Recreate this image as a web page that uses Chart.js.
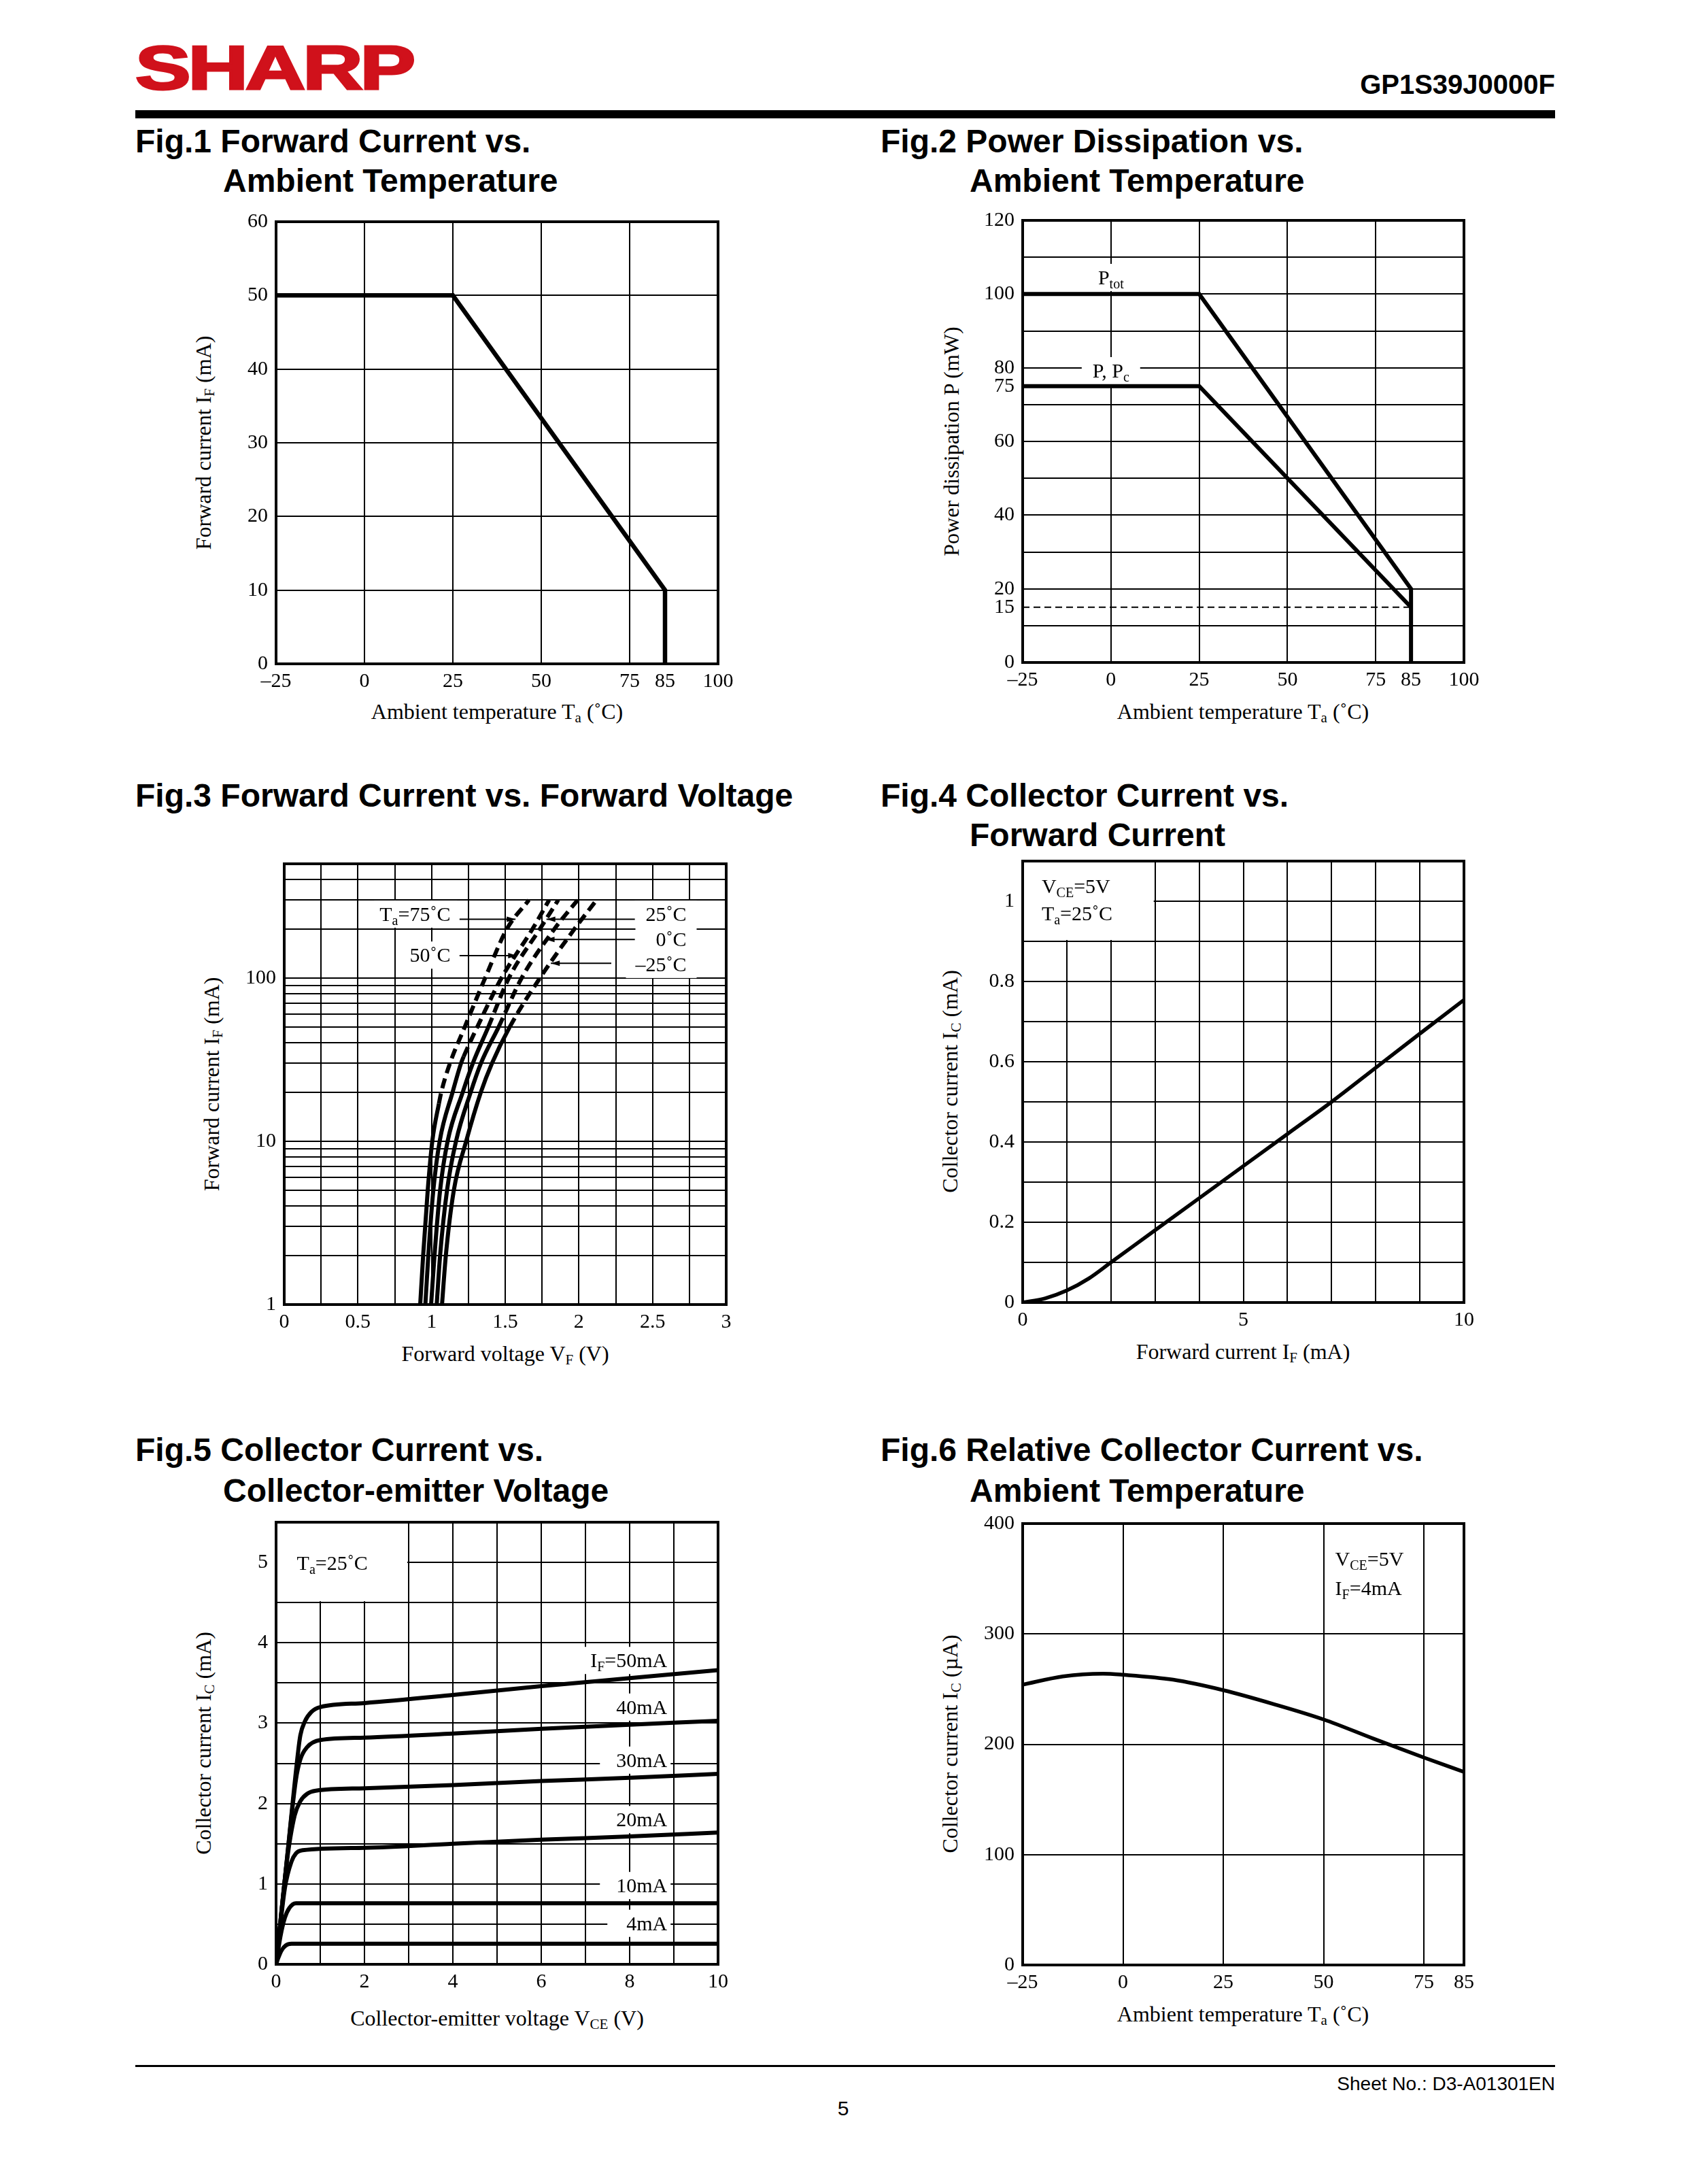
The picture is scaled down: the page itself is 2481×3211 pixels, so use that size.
<!DOCTYPE html>
<html>
<head>
<meta charset="utf-8">
<title>GP1S39J0000F characteristics</title>
<script src="https://cdn.jsdelivr.net/npm/chart.js@4.4.1/dist/chart.umd.min.js"></script>
<style>
  html, body { margin:0; padding:0; background:#fff; }
  #page { position:relative; width:2481px; height:3211px; overflow:hidden; background:#fff; }
  .abs { position:absolute; white-space:nowrap; line-height:1; }
  .logo { font-family:"Liberation Sans", Arial, sans-serif; font-weight:bold; color:#d0111b; font-size:90px;
          transform:scaleX(1.36); transform-origin:0 0; letter-spacing:-3px; -webkit-text-stroke:3px #d0111b; }
  .part { font-family:"Liberation Sans", Arial, sans-serif; font-weight:bold; font-size:40px; }
  .fig { font-family:"Liberation Sans", Arial, sans-serif; font-weight:bold; font-size:48px; }
  .axt { font-family:"Liberation Serif", "Times New Roman", serif; font-size:32px; }
  .sb { font-size:21px; vertical-align:-5px; }
  .xt { transform:translateX(-50%); }
  .rot { transform:translate(-50%,-50%) rotate(-90deg); }
  .foot { font-family:"Liberation Sans", Arial, sans-serif; font-size:28px; }
  .rule { position:absolute; background:#000; }
  canvas { position:absolute; }
</style>
</head>
<body>
<div id="page">
  <div class="abs logo" style="left:199px; top:55px;">SHARP</div>
  <div class="abs part" style="right:194px; top:104px;">GP1S39J0000F</div>
  <div class="rule" style="left:199px; top:162px; width:2088px; height:12px;"></div>

  <div class="abs fig" style="left:199px; top:184px;">Fig.1 Forward Current vs.</div>
  <div class="abs fig" style="left:328px; top:242px;">Ambient Temperature</div>
  <div class="abs fig" style="left:1295px; top:184px;">Fig.2 Power Dissipation vs.</div>
  <div class="abs fig" style="left:1426px; top:242px;">Ambient Temperature</div>
  <div class="abs fig" style="left:199px; top:1146px;">Fig.3 Forward Current vs. Forward Voltage</div>
  <div class="abs fig" style="left:1295px; top:1146px;">Fig.4 Collector Current vs.</div>
  <div class="abs fig" style="left:1426px; top:1204px;">Forward Current</div>
  <div class="abs fig" style="left:199px; top:2108px;">Fig.5 Collector Current vs.</div>
  <div class="abs fig" style="left:328px; top:2168px;">Collector-emitter Voltage</div>
  <div class="abs fig" style="left:1295px; top:2108px;">Fig.6 Relative Collector Current vs.</div>
  <div class="abs fig" style="left:1426px; top:2168px;">Ambient Temperature</div>

  <div class="abs axt xt" style="left:731px; top:1030px;">Ambient temperature T<span class="sb">a</span> (˚C)</div>
  <div class="abs axt rot" style="left:301px; top:651px;">Forward current I<span class="sb">F</span> (mA)</div>
  <div class="abs axt xt" style="left:1828px; top:1030px;">Ambient temperature T<span class="sb">a</span> (˚C)</div>
  <div class="abs axt rot" style="left:1399px; top:649px;">Power dissipation P (mW)</div>
  <div class="abs axt xt" style="left:743px; top:1974px;">Forward voltage V<span class="sb">F</span> (V)</div>
  <div class="abs axt rot" style="left:313px; top:1594px;">Forward current I<span class="sb">F</span> (mA)</div>
  <div class="abs axt xt" style="left:1828px; top:1971px;">Forward current I<span class="sb">F</span> (mA)</div>
  <div class="abs axt rot" style="left:1399px; top:1590px;">Collector current I<span class="sb">C</span> (mA)</div>
  <div class="abs axt xt" style="left:731px; top:2951px;">Collector-emitter voltage V<span class="sb">CE</span> (V)</div>
  <div class="abs axt rot" style="left:301px; top:2563px;">Collector current I<span class="sb">C</span> (mA)</div>
  <div class="abs axt xt" style="left:1828px; top:2945px;">Ambient temperature T<span class="sb">a</span> (˚C)</div>
  <div class="abs axt rot" style="left:1399px; top:2564px;">Collector current I<span class="sb">C</span> (µA)</div>

  <div class="rule" style="left:199px; top:3036px; width:2088px; height:3px;"></div>
  <div class="abs foot" style="right:194px; top:3050px;">Sheet No.: D3-A01301EN</div>
  <div class="abs foot xt" style="left:1240px; top:3085px; font-size:30px;">5</div>
</div>

<script>
// ---- Fig.1 forward current derating
const fig1Temp = [-25, 25, 85, 85];
const fig1If = [50, 50, 10, 0];
const fig1XTicks = [-25, 0, 25, 50, 75, 85, 100];
const fig1YTicks = [0, 10, 20, 30, 40, 50, 60];

// ---- Fig.2 power dissipation derating
const fig2TotTemp = [-25, 25, 85, 85];
const fig2Ptot = [100, 100, 20, 0];
const fig2PcTemp = [-25, 25, 85];
const fig2Pc = [75, 75, 15];
const fig2RefTemp = [-25, 85];
const fig2Ref = [15, 15];
const fig2YTicks = [0, 10, 15, 20, 30, 40, 50, 60, 70, 75, 80, 90, 100, 110, 120];
const fig2YLabels = ['0', '', '15', '20', '', '40', '', '60', '', '75', '80', '', '100', '', '120'];

// ---- Fig.3 forward voltage vs forward current (per ambient temperature)
const fig3If75 = [1, 2, 5, 10, 17, 20, 30, 50, 100, 200, 300];
const fig3Vf75 = [0.923, 0.943, 0.974, 1.005, 1.05, 1.066, 1.125, 1.225, 1.364, 1.512, 1.661];
const fig3If50 = [1, 2, 5, 10, 20, 30, 33, 50, 100, 200, 300];
const fig3Vf50 = [0.958, 0.978, 1.012, 1.055, 1.143, 1.20, 1.218, 1.31, 1.475, 1.686, 1.798];
const fig3If = [1, 2, 5, 10, 20, 30, 50, 100, 200, 300];
const fig3Vf25 = [0.997, 1.02, 1.058, 1.109, 1.212, 1.28, 1.385, 1.525, 1.736, 1.86];
const fig3Vf0 = [1.035, 1.058, 1.105, 1.166, 1.266, 1.335, 1.455, 1.612, 1.835, 1.991];
const fig3VfM25 = [1.071, 1.097, 1.151, 1.235, 1.335, 1.41, 1.53, 1.736, 1.971, 2.12];
const fig3RatedIf = [17, 33, 50, 50, 50];
const fig3XTicks = [0, 0.25, 0.5, 0.75, 1, 1.25, 1.5, 1.75, 2, 2.25, 2.5, 2.75, 3];
const fig3XLabels = ['0', '', '0.5', '', '1', '', '1.5', '', '2', '', '2.5', '', '3'];
const fig3YTicks = [1, 2, 3, 4, 5, 6, 7, 8, 9, 10, 20, 30, 40, 50, 60, 70, 80, 90, 100, 200, 300, 400, 500];

// ---- Fig.4 collector current vs forward current
const fig4If = [0, 0.5, 1, 1.5, 2, 3, 4, 5, 6, 7, 8, 9, 10];
const fig4Ic = [0, 0.01, 0.03, 0.06, 0.1, 0.18, 0.26, 0.34, 0.42, 0.5, 0.585, 0.67, 0.754];
const fig4XTicks = [0, 1, 2, 3, 4, 5, 6, 7, 8, 9, 10];
const fig4YTicks = [0, 0.1, 0.2, 0.3, 0.4, 0.5, 0.6, 0.7, 0.8, 0.9, 1.0, 1.1];
const fig4YLabels = ['0', '', '0.2', '', '0.4', '', '0.6', '', '0.8', '', '1', ''];

// ---- Fig.5 collector current vs collector-emitter voltage
const fig5Vce50 = [0, 0.25, 0.5, 0.55, 0.65, 0.8, 1.0, 2, 4, 6, 8, 10];
const fig5Ic50 = [0, 1.33, 2.65, 2.85, 3.02, 3.14, 3.2, 3.25, 3.35, 3.46, 3.56, 3.66];
const fig5Vce40 = [0, 0.25, 0.45, 0.55, 0.7, 1.0, 2, 4, 6, 8, 10];
const fig5Ic40 = [0, 1.33, 2.3, 2.55, 2.7, 2.79, 2.82, 2.87, 2.93, 2.98, 3.03];
const fig5Vce30 = [0, 0.25, 0.42, 0.55, 0.7, 0.9, 2, 4, 6, 8, 10];
const fig5Ic30 = [0, 1.3, 1.85, 2.03, 2.12, 2.16, 2.19, 2.23, 2.28, 2.32, 2.37];
const fig5Vce20 = [0, 0.2, 0.35, 0.45, 0.6, 2, 4, 6, 8, 10];
const fig5Ic20 = [0, 0.95, 1.28, 1.38, 1.42, 1.45, 1.50, 1.55, 1.59, 1.64];
const fig5Vce10 = [0, 0.1, 0.2, 0.3, 0.45, 2, 10];
const fig5Ic10 = [0, 0.35, 0.58, 0.7, 0.76, 0.76, 0.76];
const fig5Vce4 = [0, 0.05, 0.12, 0.22, 0.35, 2, 10];
const fig5Ic4 = [0, 0.08, 0.17, 0.235, 0.255, 0.255, 0.255];
const fig5XTicks = [0, 1, 2, 3, 4, 5, 6, 7, 8, 9, 10];
const fig5XLabels = ['0', '', '2', '', '4', '', '6', '', '8', '', '10'];
const fig5YTicks = [0, 0.5, 1, 1.5, 2, 2.5, 3, 3.5, 4, 4.5, 5, 5.5];
const fig5YLabels = ['0', '', '1', '', '2', '', '3', '', '4', '', '5', ''];

// ---- Fig.6 collector current vs ambient temperature
const fig6Temp = [-25, -15, -5, 0, 12.5, 25, 37.5, 50, 62.5, 75, 85];
const fig6Ic = [254, 261.5, 264, 263, 258.5, 249, 236.5, 222.5, 205, 188, 175];
const fig6XTicks = [-25, 0, 25, 50, 75, 85];
const fig6YTicks = [0, 100, 200, 300, 400];

const SERIF = '"Liberation Serif", "Times New Roman", serif';
Chart.defaults.font.family = SERIF;
Chart.defaults.font.size = 30;
Chart.defaults.color = '#000';

function fmt(v) { return v < 0 ? '\u2013' + (-v) : String(v); }

function axis(pos, o) {
  const labels = o.labels || o.ticks.map(fmt);
  return {
    type: o.type || 'linear',
    position: pos === 'y' ? 'left' : 'bottom',
    min: o.min, max: o.max,
    afterBuildTicks: s => { s.ticks = o.ticks.map(v => ({ value: v })); },
    afterFit: s => { if (pos === 'y') s.width = 100; else s.height = 60; },
    ticks: { autoSkip: false, maxRotation: 0, minRotation: 0, padding: pos === 'y' ? 12 : 8,
             callback: (v, i) => labels[i] },
    grid: { drawTicks: false, lineWidth: 2,
            color: c => (c.tick && o.noGrid && o.noGrid.includes(c.tick.value)) ? 'rgba(0,0,0,0)' : '#000' },
    border: { display: false }
  };
}

function curve(xs, ys, extra) {
  return Object.assign({
    data: xs.map((x, i) => ({ x: x, y: ys[i] })),
    showLine: true, borderColor: '#000', backgroundColor: '#000', borderWidth: 6,
    pointRadius: 0, borderJoinStyle: 'miter', borderCapStyle: 'butt', fill: false
  }, extra || {});
}

function smooth(xs, ys, extra) {
  return curve(xs, ys, Object.assign({ cubicInterpolationMode: 'monotone' }, extra || {}));
}

// rich text: strings are normal, one-element arrays are subscripts
function richWidth(ctx, parts) {
  let w = 0;
  parts.forEach(p => {
    ctx.font = (Array.isArray(p) ? '20px ' : '30px ') + SERIF;
    w += ctx.measureText(Array.isArray(p) ? p[0] : p).width;
  });
  return w;
}
function drawRich(ctx, parts, x, base) {
  parts.forEach(p => {
    const sub = Array.isArray(p);
    const t = sub ? p[0] : p;
    ctx.font = (sub ? '20px ' : '30px ') + SERIF;
    ctx.fillText(t, x, sub ? base + 6 : base);
    x += ctx.measureText(t).width;
  });
}
function place(ctx, l, sx, sy) {
  const w = richWidth(ctx, l.parts);
  const px = sx.getPixelForValue(l.x);
  const left = l.align === 'right' ? px - w : l.align === 'center' ? px - w / 2 : px;
  return { left: left, w: w, cy: sy.getPixelForValue(l.y) };
}

const sheetPlugin = {
  id: 'sheet',
  beforeDatasetsDraw(chart, args, opts) {
    const ctx = chart.ctx, sx = chart.scales.x, sy = chart.scales.y;
    ctx.save();
    ctx.fillStyle = '#fff';
    (opts.blank || []).forEach(b => {
      const x0 = sx.getPixelForValue(b[0]), x1 = sx.getPixelForValue(b[1]);
      const y0 = sy.getPixelForValue(b[2]), y1 = sy.getPixelForValue(b[3]);
      ctx.fillRect(Math.min(x0, x1) + 2, Math.min(y0, y1) + 2, Math.abs(x1 - x0) - 4, Math.abs(y1 - y0) - 4);
    });
    (opts.labels || []).forEach(l => {
      if (!l.bg) return;
      const m = place(ctx, l, sx, sy);
      const pl = l.padL != null ? l.padL : 12, pr = l.padR != null ? l.padR : 12;
      ctx.fillRect(m.left - pl, m.cy - 20, m.w + pl + pr, 40);
    });
    ctx.restore();
  },
  afterDatasetsDraw(chart, args, opts) {
    const ctx = chart.ctx, sx = chart.scales.x, sy = chart.scales.y, a = chart.chartArea;
    ctx.save();
    ctx.strokeStyle = '#000';
    ctx.fillStyle = '#000';
    (opts.leaders || []).forEach(ld => {
      const x0 = sx.getPixelForValue(ld.from[0]), y0 = sy.getPixelForValue(ld.from[1]);
      const x1 = sx.getPixelForValue(ld.to[0]), y1 = sy.getPixelForValue(ld.to[1]);
      ctx.lineWidth = 2;
      ctx.beginPath(); ctx.moveTo(x0, y0); ctx.lineTo(x1, y1); ctx.stroke();
      const d = Math.sign(x1 - x0);
      ctx.beginPath(); ctx.moveTo(x1, y1); ctx.lineTo(x1 - d * 13, y1 - 4); ctx.lineTo(x1 - d * 13, y1 + 4); ctx.closePath(); ctx.fill();
    });
    ctx.textBaseline = 'alphabetic';
    ctx.textAlign = 'left';
    (opts.labels || []).forEach(l => {
      const m = place(ctx, l, sx, sy);
      drawRich(ctx, l.parts, m.left, m.cy + 10);
    });
    ctx.lineWidth = 4;
    ctx.strokeRect(a.left, a.top, a.right - a.left, a.bottom - a.top);
    ctx.restore();
  }
};

function makeChart(box, datasets, xAx, yAx, sheet) {
  const cv = document.createElement('canvas');
  const L = box[0], T = box[1], W = box[2], H = box[3];
  cv.width = 100 + W + 50;
  cv.height = 30 + H + 60;
  cv.style.left = (L - 100) + 'px';
  cv.style.top = (T - 30) + 'px';
  cv.style.width = cv.width + 'px';
  cv.style.height = cv.height + 'px';
  document.getElementById('page').appendChild(cv);
  return new Chart(cv.getContext('2d'), {
    type: 'scatter',
    data: { datasets: datasets },
    options: {
      responsive: false, maintainAspectRatio: false, animation: false, events: [],
      layout: { padding: { left: 0, top: 30, right: 50, bottom: 0 } },
      scales: { x: xAx, y: yAx },
      plugins: { legend: { display: false }, tooltip: { enabled: false }, sheet: sheet || {} }
    },
    plugins: [sheetPlugin]
  });
}

// Fig.1
makeChart([406, 326, 650, 650],
  [curve(fig1Temp, fig1If, { borderWidth: 6.5 })],
  axis('x', { min: -25, max: 100, ticks: fig1XTicks, noGrid: [85] }),
  axis('y', { min: 0, max: 60, ticks: fig1YTicks }));

// Fig.2
makeChart([1504, 324, 649, 650],
  [curve(fig2RefTemp, fig2Ref, { borderWidth: 2, borderDash: [10, 6] }),
   curve(fig2PcTemp, fig2Pc),
   curve(fig2TotTemp, fig2Ptot)],
  axis('x', { min: -25, max: 100, ticks: fig1XTicks, noGrid: [85] }),
  axis('y', { min: 0, max: 120, ticks: fig2YTicks, labels: fig2YLabels, noGrid: [15, 75] }),
  { labels: [
      { x: 0, y: 104.5, parts: ['P', ['tot']], align: 'center', bg: true, padL: 6, padR: 6 },
      { x: 0, y: 79.2, parts: ['P, P', ['c']], align: 'center', bg: true, padL: 16, padR: 16 }
  ] });

// Fig.3
function fig3Curve(xs, ys, rated) {
  return smooth(xs, ys, { borderWidth: 6,
    segment: { borderDash: c => c.p0.parsed.y >= rated - 1e-6 ? [15, 8] : undefined } });
}
makeChart([418, 1270, 650, 648],
  [fig3Curve(fig3Vf75, fig3If75, fig3RatedIf[0]),
   fig3Curve(fig3Vf50, fig3If50, fig3RatedIf[1]),
   fig3Curve(fig3Vf25, fig3If, fig3RatedIf[2]),
   fig3Curve(fig3Vf0, fig3If, fig3RatedIf[3]),
   fig3Curve(fig3VfM25, fig3If, fig3RatedIf[4])],
  axis('x', { min: 0, max: 3, ticks: fig3XTicks, labels: fig3XLabels }),
  axis('y', { type: 'logarithmic', min: 1, max: 500, ticks: fig3YTicks,
              labels: fig3YTicks.map(v => (v === 1 || v === 10 || v === 100) ? String(v) : '') }),
  { labels: [
      { x: 1.128, y: 246, parts: ['T', ['a'], '=75˚C'], align: 'right', bg: true, padL: 8, padR: 10 },
      { x: 1.128, y: 138, parts: ['50˚C'], align: 'right', bg: true, padL: 8, padR: 10 },
      { x: 2.73, y: 246, parts: ['25˚C'], align: 'right', bg: true, padL: 16, padR: 15 },
      { x: 2.73, y: 172, parts: ['0˚C'], align: 'right', bg: true, padL: 30, padR: 15 },
      { x: 2.73, y: 121, parts: ['\u201325˚C'], align: 'right', bg: true, padL: 14, padR: 15 }
    ],
    leaders: [
      { from: [1.19, 229], to: [1.57, 229] },
      { from: [1.19, 137], to: [1.58, 137] },
      { from: [2.38, 229], to: [1.78, 229] },
      { from: [2.38, 172], to: [1.775, 172] },
      { from: [2.22, 123], to: [1.81, 123] }
    ] });

// Fig.4
makeChart([1504, 1266, 649, 649],
  [smooth(fig4If, fig4Ic, { borderWidth: 5.5 })],
  axis('x', { min: 0, max: 10, ticks: fig4XTicks, labels: fig4XTicks.map(v => v % 5 === 0 ? String(v) : '') }),
  axis('y', { min: 0, max: 1.1, ticks: fig4YTicks, labels: fig4YLabels }),
  { blank: [[0, 3, 0.9, 1.1]],
    labels: [
      { x: 0.43, y: 1.037, parts: ['V', ['CE'], '=5V'], align: 'left' },
      { x: 0.43, y: 0.969, parts: ['T', ['a'], '=25˚C'], align: 'left' }
    ] });

// Fig.5
makeChart([406, 2238, 650, 650],
  [smooth(fig5Vce50, fig5Ic50), smooth(fig5Vce40, fig5Ic40), smooth(fig5Vce30, fig5Ic30),
   smooth(fig5Vce20, fig5Ic20), smooth(fig5Vce10, fig5Ic10), smooth(fig5Vce4, fig5Ic4)],
  axis('x', { min: 0, max: 10, ticks: fig5XTicks, labels: fig5XLabels }),
  axis('y', { min: 0, max: 5.5, ticks: fig5YTicks, labels: fig5YLabels }),
  { blank: [[0, 3, 4.5, 5.5]],
    labels: [
      { x: 0.47, y: 4.99, parts: ['T', ['a'], '=25˚C'], align: 'left' },
      { x: 8.85, y: 3.78, parts: ['I', ['F'], '=50mA'], align: 'right', bg: true, padL: 12, padR: 5 },
      { x: 8.85, y: 3.2, parts: ['40mA'], align: 'right', bg: true, padL: 20, padR: 5 },
      { x: 8.85, y: 2.54, parts: ['30mA'], align: 'right', bg: true, padL: 24, padR: 5 },
      { x: 8.85, y: 1.8, parts: ['20mA'], align: 'right', bg: true, padL: 20, padR: 5 },
      { x: 8.85, y: 0.98, parts: ['10mA'], align: 'right', bg: true, padL: 24, padR: 5 },
      { x: 8.85, y: 0.51, parts: ['4mA'], align: 'right', bg: true, padL: 28, padR: 5 }
    ] });

// Fig.6
makeChart([1504, 2240, 649, 649],
  [smooth(fig6Temp, fig6Ic, { borderWidth: 5.5 })],
  axis('x', { min: -25, max: 85, ticks: fig6XTicks }),
  axis('y', { min: 0, max: 400, ticks: fig6YTicks }),
  { labels: [
      { x: 52.9, y: 367.7, parts: ['V', ['CE'], '=5V'], align: 'left' },
      { x: 52.9, y: 341.5, parts: ['I', ['F'], '=4mA'], align: 'left' }
    ] });
</script>
</body>
</html>
